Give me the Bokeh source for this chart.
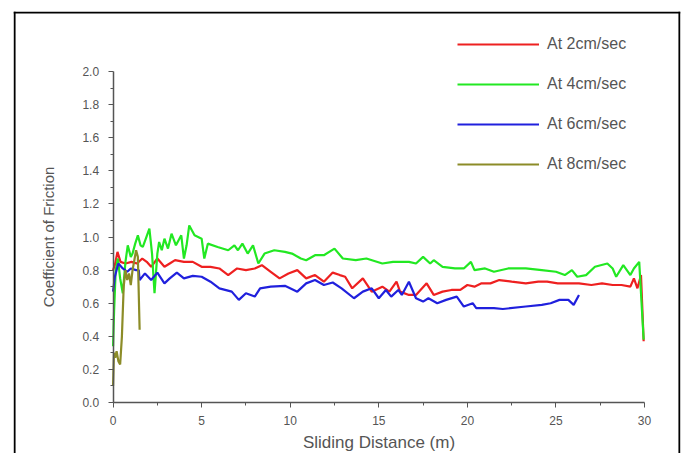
from bokeh.plotting import figure
from bokeh.models import Range1d, Span, Legend, LegendItem, PrintfTickFormatter, FixedTicker
from bokeh.embed import file_html
from bokeh.resources import INLINE

# ---- data ----
x2 = [0.0, 0.1, 0.25, 0.42, 0.7, 1.04, 1.35, 1.65, 1.9, 2.15, 2.5, 2.9, 3.2, 3.5, 4.0, 4.5, 5.0, 5.5, 6.0, 6.5,
      7.0, 7.5, 8.0, 8.4, 8.9, 9.4, 9.9, 10.4, 10.9, 11.4, 11.9, 12.4, 12.8, 13.1, 13.5, 14.1, 14.6, 15.2, 15.6,
      16.0, 16.2, 16.7, 17.1, 17.7, 18.1, 18.6, 19.1, 19.6, 20.0, 20.4, 20.8, 21.3, 21.8, 22.5, 23.3, 24.0, 24.5,
      25.1, 25.7, 26.3, 27.0, 27.6, 28.2, 28.7, 29.2, 29.4, 29.6, 29.8, 29.95]
y2 = [0.80, 0.83, 0.91, 0.85, 0.84, 0.85, 0.84, 0.87, 0.85, 0.82, 0.87, 0.82, 0.84, 0.86, 0.85, 0.85, 0.82, 0.82,
      0.81, 0.77, 0.81, 0.80, 0.81, 0.83, 0.79, 0.75, 0.78, 0.80, 0.75, 0.77, 0.73, 0.785, 0.77, 0.76, 0.69, 0.75,
      0.67, 0.70, 0.67, 0.73, 0.67, 0.65, 0.65, 0.72, 0.65, 0.67, 0.68, 0.68, 0.71, 0.70, 0.72, 0.72, 0.74, 0.73,
      0.72, 0.73, 0.73, 0.72, 0.72, 0.72, 0.71, 0.72, 0.71, 0.71, 0.70, 0.75, 0.69, 0.77, 0.37]

x4 = [0.0, 0.06, 0.15, 0.27, 0.4, 0.55, 0.7, 0.83, 1.0, 1.1, 1.25, 1.4, 1.55, 1.68, 1.85, 2.05, 2.2, 2.34, 2.5,
      2.6, 2.75, 2.9, 3.1, 3.3, 3.55, 3.7, 3.85, 4.0, 4.15, 4.3, 4.6, 5.0, 5.15, 5.35, 5.9, 6.5, 6.85, 7.05, 7.3,
      7.6, 7.9, 8.2, 8.55, 9.1, 9.7, 10.1, 10.6, 10.9, 11.4, 11.9, 12.5, 12.97, 13.7, 14.3, 15.2, 15.8, 16.7, 17.1,
      17.5, 17.9, 18.1, 18.6, 19.3, 19.8, 20.2, 20.4, 21.0, 21.5, 22.3, 23.3, 24.2, 25.0, 25.5, 25.9, 26.2, 26.7,
      27.2, 27.9, 28.2, 28.4, 28.8, 29.2, 29.4, 29.7, 29.95]
y4 = [0.34, 0.56, 0.80, 0.87, 0.75, 0.66, 0.85, 0.95, 0.88, 0.90, 0.96, 1.01, 0.95, 0.94, 0.99, 1.05, 0.90, 0.66,
      0.90, 0.97, 0.92, 0.99, 0.93, 1.02, 0.95, 0.98, 1.01, 0.87, 0.95, 1.07, 1.01, 0.99, 0.87, 0.96, 0.94, 0.92,
      0.95, 0.92, 0.96, 0.90, 0.95, 0.84, 0.90, 0.92, 0.91, 0.90, 0.87, 0.86, 0.89, 0.89, 0.93, 0.87, 0.86, 0.87,
      0.84, 0.85, 0.85, 0.84, 0.88, 0.84, 0.86, 0.82, 0.81, 0.81, 0.85, 0.80, 0.81, 0.79, 0.81, 0.81, 0.80, 0.79,
      0.77, 0.80, 0.76, 0.77, 0.82, 0.84, 0.81, 0.76, 0.83, 0.77, 0.81, 0.85, 0.38]

x6 = [0.0, 0.1, 0.3, 0.55, 0.8, 1.0, 1.3, 1.45, 1.5, 1.8, 2.15, 2.5, 2.9, 3.2, 3.6, 4.0, 4.5, 5.0, 5.5, 6.0, 6.7,
      7.1, 7.5, 8.0, 8.3, 8.9, 9.7, 10.4, 10.9, 11.4, 11.9, 12.4, 12.9, 13.6, 14.1, 14.6, 15.0, 15.4, 15.7, 16.1,
      16.3, 16.7, 17.1, 17.5, 17.8, 18.3, 18.8, 19.4, 19.8, 20.3, 20.5, 21.5, 22.0, 23.3, 24.2, 24.7, 25.2, 25.7,
      26.0, 26.3]
y6 = [0.67, 0.76, 0.84, 0.81, 0.79, 0.81, 0.80, 0.80, 0.74, 0.78, 0.74, 0.785, 0.72, 0.75, 0.785, 0.75, 0.765,
      0.76, 0.73, 0.69, 0.67, 0.62, 0.66, 0.64, 0.69, 0.70, 0.705, 0.67, 0.72, 0.74, 0.71, 0.725, 0.69, 0.63, 0.67,
      0.69, 0.63, 0.68, 0.64, 0.68, 0.65, 0.73, 0.63, 0.61, 0.63, 0.60, 0.62, 0.64, 0.58, 0.60, 0.57, 0.57, 0.565,
      0.58, 0.59, 0.60, 0.62, 0.62, 0.59, 0.65]

x8 = [0.0, 0.05, 0.12, 0.2, 0.3, 0.4, 0.5, 0.6, 0.7, 0.8, 0.9, 1.0, 1.1, 1.2, 1.3, 1.4, 1.5]
y8 = [0.10, 0.30, 0.27, 0.31, 0.25, 0.23, 0.40, 0.70, 0.80, 0.74, 0.78, 0.71, 0.80, 0.86, 0.92, 0.88, 0.44]

labels = ["At 2cm/sec", "At 4cm/sec", "At 6cm/sec", "At 8cm/sec"]
colors = ["#ee2020", "#22e822", "#2020dd", "#8c8c28"]
x_ticks = [0, 5, 10, 15, 20, 25, 30]
y_ticks = [0.0, 0.2, 0.4, 0.6, 0.8, 1.0, 1.2, 1.4, 1.6, 1.8, 2.0]

FONT = "Liberation Sans"
TXT = "#555555"
AX = "#555555"

X0, X1 = -5.62, 32.03
Y0, Y1 = -0.308, 2.3625

p = figure(width=683, height=453, output_backend="svg", toolbar_location=None,
           x_range=Range1d(X0, X1), y_range=Range1d(Y0, Y1),
           min_border_left=13, min_border_right=3, min_border_top=11, min_border_bottom=0)
p.outline_line_color = None
p.grid.visible = False
p.background_fill_color = "white"
p.border_fill_color = "white"

# outer box (left, top, right)
for loc, dim in [(X0 + 0.06, "height"), (X1 - 0.06, "height"), (Y1 - 0.006, "width")]:
    p.add_layout(Span(location=loc, dimension=dim, line_color="black", line_width=2))

renderers = []
for xs, ys, c in [(x2, y2, colors[0]), (x4, y4, colors[1]), (x6, y6, colors[2]), (x8, y8, colors[3])]:
    renderers.append(p.line(xs, ys, line_color=c, line_width=2.2))

# axes
xa = p.xaxis[0]
ya = p.yaxis[0]
xa.fixed_location = 0
ya.fixed_location = 0
xa.bounds = (0, 30)
ya.bounds = (0, 2)
xa.ticker = FixedTicker(ticks=x_ticks, minor_ticks=[2.5, 7.5, 12.5, 17.5, 22.5, 27.5])
ya.ticker = FixedTicker(ticks=y_ticks, minor_ticks=[0.1, 0.3, 0.5, 0.7, 0.9, 1.1, 1.3, 1.5, 1.7, 1.9])
ya.formatter = PrintfTickFormatter(format="%.1f")
for a in (xa, ya):
    a.axis_line_color = AX
    a.axis_line_width = 1.5
    a.major_tick_line_color = AX
    a.minor_tick_line_color = AX
    a.major_tick_in = 0
    a.major_tick_out = 5
    a.minor_tick_in = 0
    a.minor_tick_out = 3
    a.major_label_text_font = FONT
    a.major_label_text_font_size = "12px"
    a.major_label_text_color = TXT
    a.axis_label_text_font = FONT
    a.axis_label_text_font_style = "normal"
    a.axis_label_text_color = TXT
xa.axis_label = "Sliding Distance (m)"
ya.axis_label = "Coefficient of Friction"
xa.axis_label_text_font_size = "17px"
ya.axis_label_text_font_size = "15px"
xa.major_label_standoff = 8
ya.major_label_standoff = 9
xa.axis_label_standoff = 5
ya.axis_label_standoff = 23

legend = Legend(items=[LegendItem(label=l, renderers=[r]) for l, r in zip(labels, renderers)],
                location=(444, 279), glyph_width=82, glyph_height=20, label_height=20,
                label_standoff=8, spacing=20, padding=0, margin=0,
                border_line_color=None, background_fill_alpha=0,
                label_text_font=FONT, label_text_font_size="16px", label_text_color=TXT)
p.add_layout(legend)

open("out.html", "w").write(file_html(p, INLINE))
